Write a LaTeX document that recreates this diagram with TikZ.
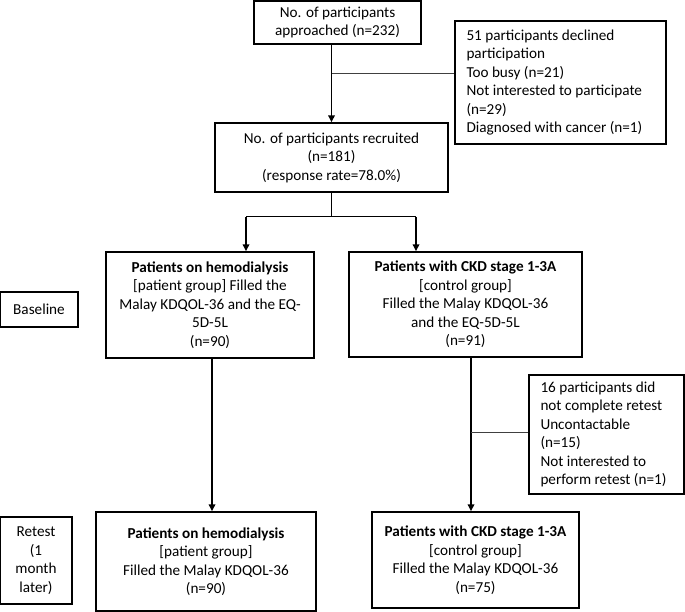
\documentclass[tikz,border=0pt]{standalone}
\usepackage{fontspec}
\setmainfont{Carlito}
\usetikzlibrary{arrows.meta,calc}
\begin{document}
\begin{tikzpicture}[x=1pt,y=-1pt,
  box/.style={draw,line width=1.4pt,inner sep=0pt,align=center,font=\fontsize{15.2}{18.5}\selectfont},
  lbox/.style={draw,line width=1.4pt,inner sep=0pt,font=\fontsize{15.2}{18.5}\selectfont},
  ltext/.style={align=left,anchor=west,inner sep=0pt,font=\fontsize{15.2}{18.5}\selectfont},
  arr/.style={line width=1.6pt,-{Triangle[length=7pt,width=6.5pt]}},
  thinline/.style={line width=0.9pt,black!75}]
\useasboundingbox (0,0) rectangle (685,612);
\node[box,minimum width=167pt,minimum height=43pt] (appr) at (337.5,22.5) {No. of participants\\approached (n=232)};
\node[lbox,minimum width=211pt,minimum height=123pt] (decl) at (560.5,82.5) {};
\node[ltext] (declt) at ($(decl.west)+(12,0)$) {51 participants declined\\participation\\Too busy (n=21)\\Not interested to participate\\(n=29)\\Diagnosed with cancer (n=1)};
\node[box,minimum width=233pt,minimum height=69pt] (recr) at (331.5,157.5) {No. of participants recruited\\(n=181)\\(response rate=78.0\%)};
\node[box,minimum width=208pt,minimum height=106pt] (hemo) at (210,305) {\textbf{Patients on hemodialysis}\\{}[patient group] Filled the\\Malay KDQOL-36 and the EQ-\\5D-5L\\(n=90)};
\node[box,minimum width=233pt,minimum height=105pt] (ckd) at (465.5,304.5) {\textbf{Patients with CKD stage 1-3A}\\{}[control group]\\Filled the Malay KDQOL-36\\and the EQ-5D-5L\\(n=91)};
\node[box,minimum width=78pt,minimum height=35pt] (base) at (39,309.5) {Baseline};
\node[lbox,minimum width=155pt,minimum height=119pt] (dnc) at (606.5,434.5) {};
\node[ltext] (dnct) at ($(dnc.west)+(12,0)$) {16 participants did\\not complete retest\\Uncontactable\\(n=15)\\Not interested to\\perform retest (n=1)};
\node[box,minimum width=220pt,minimum height=99pt] (hemo2) at (206,561.5) {\textbf{Patients on hemodialysis}\\{}[patient group]\\Filled the Malay KDQOL-36\\(n=90)};
\node[box,minimum width=207pt,minimum height=96pt] (ckd2) at (475.5,560) {\textbf{Patients with CKD stage 1-3A}\\{}[control group]\\Filled the Malay KDQOL-36\\(n=75)};
\node[box,minimum width=72pt,minimum height=87pt] (retest) at (36,560.5) {Retest\\(1\\month\\later)};
% connectors
\draw[arr] (recr.north |- appr.south) -- (recr.north);
\coordinate (j1) at (331.5,73);
\draw[thinline] (j1) -- (j1 -| decl.west);
\coordinate (sL) at (246,217);
\coordinate (sR) at (416,217);
\draw[line width=1pt] (recr.south) -- (recr.south |- sL);
\draw[line width=1pt] (sL) -- (sR);
\draw[arr] (sL) -- (sL |- hemo.north);
\draw[arr] (sR) -- (sR |- ckd.north);
\coordinate (cL) at (212,0);
\coordinate (cR) at (471,0);
\draw[arr] (cL |- hemo.south) -- (cL |- hemo2.north);
\draw[arr] (cR |- ckd.south) -- (cR |- ckd2.north);
\coordinate (j2) at (471,432);
\draw[thinline] (j2) -- (j2 -| dnc.west);
\end{tikzpicture}
\end{document}
